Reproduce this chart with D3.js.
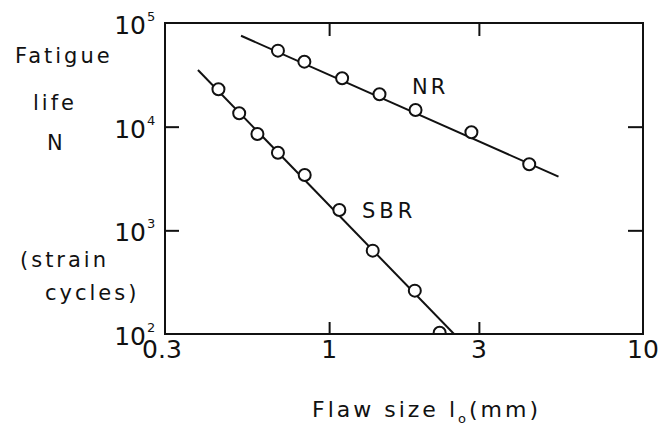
<!DOCTYPE html>
<html>
<head>
<meta charset="utf-8">
<script src="https://cdn.jsdelivr.net/npm/d3@7"></script>
<style>
  html, body { margin: 0; padding: 0; background: #fff; }
  svg text { font-family: "DejaVu Sans", sans-serif; fill: #111; }
</style>
</head>
<body>
<svg id="chart" width="658" height="430"></svg>
<script>
// ---- data ----
const xTickValues = [0.3, 1, 3, 10];
const xTickLabels = ["0.3", "1", "3", "10"];
const yTickValues = [100, 1000, 10000, 100000];
const yTickExponents = ["2", "3", "4", "5"];

const nrX = [0.687, 0.834, 1.10, 1.447, 1.885, 2.84, 4.34];
const nrY = [54100, 42360, 29300, 20520, 14490, 8830, 4340];
const nrFitX = [0.524, 5.38];
const nrFitY = [75400, 3295];

const sbrX = [0.444, 0.517, 0.591, 0.687, 0.836, 1.078, 1.377, 1.875, 2.25];
const sbrY = [22950, 13460, 8510, 5610, 3420, 1573, 637, 262, 103];
const sbrFitX = [0.382, 2.50];
const sbrFitY = [35240, 100];

const seriesLabels = ["NR", "SBR"];

// ---- layout ----
const svg = d3.select("#chart");
const L = 165, R = 643, T = 23, B = 334;
const x = d3.scaleLog().domain([0.3, 10]).range([L, R]);
const y = d3.scaleLog().domain([100, 100000]).range([B, T]);
const ink = "#111";

svg.append("defs").append("clipPath").attr("id", "plotclip")
  .append("rect").attr("x", L).attr("y", T).attr("width", R - L).attr("height", B - T);

// frame
svg.append("rect").attr("x", L).attr("y", T).attr("width", R - L).attr("height", B - T)
  .attr("fill", "none").attr("stroke", ink).attr("stroke-width", 2);

// inner ticks via axes
const innerX = xTickValues.slice(1, -1);
const innerY = yTickValues.slice(1, -1);
function styleAxis(g) {
  g.select(".domain").remove();
  g.selectAll("line").attr("stroke", ink).attr("stroke-width", 2);
  g.selectAll("text").remove();
}
svg.append("g").attr("transform", `translate(0,${B})`)
  .call(d3.axisTop(x).tickValues(innerX).tickSize(12)).call(styleAxis);
svg.append("g").attr("transform", `translate(0,${T})`)
  .call(d3.axisBottom(x).tickValues(innerX).tickSize(13)).call(styleAxis);
svg.append("g").attr("transform", `translate(${L},0)`)
  .call(d3.axisRight(y).tickValues(innerY).tickSize(14)).call(styleAxis);
svg.append("g").attr("transform", `translate(${R},0)`)
  .call(d3.axisLeft(y).tickValues(innerY).tickSize(15)).call(styleAxis);

// x tick labels
svg.append("g").selectAll("text").data(xTickValues).join("text")
  .attr("x", (d, i) => x(d) + (i === 0 ? -3 : 0))
  .attr("y", 358)
  .attr("text-anchor", "middle")
  .attr("font-size", 25)
  .text((d, i) => xTickLabels[i]);

// y tick labels 10^n
svg.append("g").selectAll("text").data(yTickValues).join("text")
  .attr("x", 146)
  .attr("y", d => y(d) + 11)
  .attr("text-anchor", "end")
  .attr("font-size", 25)
  .text("10");
svg.append("g").selectAll("text").data(yTickValues).join("text")
  .attr("x", 147)
  .attr("y", d => y(d) - 2)
  .attr("font-size", 13)
  .text((d, i) => yTickExponents[i]);

// y axis title
const yTitle = [
  {t: "Fatigue", x: 15, y: 63},
  {t: "life", x: 33, y: 110},
  {t: "N", x: 47, y: 150},
  {t: "(strain", x: 20, y: 267},
  {t: "cycles)", x: 45, y: 300}
];
svg.append("g").selectAll("text").data(yTitle).join("text")
  .attr("x", d => d.x).attr("y", d => d.y)
  .attr("font-size", 21)
  .attr("letter-spacing", 3)
  .text(d => d.t);

// x axis title
const xt = svg.append("text").attr("x", 312).attr("y", 417)
  .attr("font-size", 22).attr("letter-spacing", 3);
xt.append("tspan").text("Flaw size l");
xt.append("tspan").attr("font-size", 13).attr("dy", 6).text("o");
xt.append("tspan").attr("dy", -6).text("(mm)");

// lines
const line = d3.line().x(d => x(d[0])).y(d => y(d[1]));
const plot = svg.append("g").attr("clip-path", "url(#plotclip)");
plot.append("path").datum(d3.zip(nrFitX, nrFitY)).attr("d", line)
  .attr("fill", "none").attr("stroke", ink).attr("stroke-width", 2);
plot.append("path").datum(d3.zip(sbrFitX, sbrFitY)).attr("d", line)
  .attr("fill", "none").attr("stroke", ink).attr("stroke-width", 2);

// points
plot.append("g").selectAll("circle").data(d3.zip(nrX, nrY)).join("circle")
  .attr("cx", d => x(d[0])).attr("cy", d => y(d[1])).attr("r", 6)
  .attr("fill", "#fff").attr("stroke", ink).attr("stroke-width", 2);
plot.append("g").selectAll("circle").data(d3.zip(sbrX, sbrY)).join("circle")
  .attr("cx", d => x(d[0])).attr("cy", d => y(d[1])).attr("r", 6)
  .attr("fill", "#fff").attr("stroke", ink).attr("stroke-width", 2);
// redraw bottom frame line over clipped point
svg.append("line").attr("x1", L).attr("x2", R).attr("y1", B).attr("y2", B)
  .attr("stroke", ink).attr("stroke-width", 2);

// series labels
svg.append("text").attr("x", 412).attr("y", 94)
  .attr("font-size", 21).attr("letter-spacing", 3).text(seriesLabels[0]);
svg.append("text").attr("x", 362).attr("y", 218)
  .attr("font-size", 21).attr("letter-spacing", 4).text(seriesLabels[1]);
</script>
</body>
</html>
